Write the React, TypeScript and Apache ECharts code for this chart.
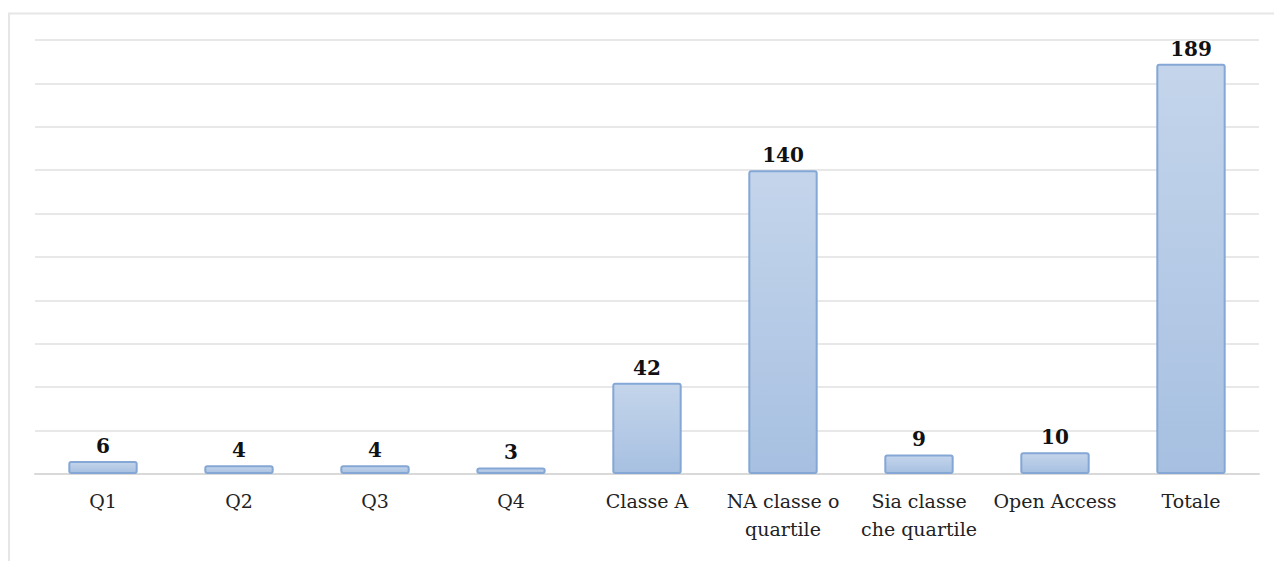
import React, { useEffect, useRef } from "react";
import * as echarts from "echarts";

const categories = [
  "Q1",
  "Q2",
  "Q3",
  "Q4",
  "Classe A",
  "NA classe o\nquartile",
  "Sia classe\nche quartile",
  "Open Access",
  "Totale",
];
const values = [6, 4, 4, 3, 42, 140, 9, 10, 189];
const yMin = 0;
const yMax = 200;
const yInterval = 20;

const FONT = "'DejaVu Serif', 'Liberation Serif', serif";

export default function App() {
  const ref = useRef<HTMLDivElement>(null);
  useEffect(() => {
    if (!ref.current) return;
    const chart = echarts.init(ref.current, null, { renderer: "svg" });
    chart.setOption({
      animation: false,
      backgroundColor: "#ffffff",
      graphic: [
        {
          type: "rect",
          shape: { x: 9, y: 13.5, width: 1300, height: 600 },
          style: { fill: "none", stroke: "#e6e6e6", lineWidth: 2 },
          silent: true,
        },
      ],
      grid: { left: 35, right: 15, top: 40, bottom: 87 },
      xAxis: {
        type: "category",
        data: categories,
        axisLine: { show: true, lineStyle: { color: "#d9d9d9", width: 2 } },
        axisTick: { show: false },
        axisLabel: {
          color: "#222222",
          fontFamily: FONT,
          fontSize: 19,
          lineHeight: 28,
          margin: 13,
          interval: 0,
        },
      },
      yAxis: {
        type: "value",
        min: yMin,
        max: yMax,
        interval: yInterval,
        axisLabel: { show: false },
        axisLine: { show: false },
        axisTick: { show: false },
        splitLine: { lineStyle: { color: "#e8e8e8", width: 2 } },
      },
      series: [
        {
          type: "bar",
          data: values,
          barWidth: "51%",
          itemStyle: {
            color: new echarts.graphic.LinearGradient(0, 0, 0, 1, [
              { offset: 0, color: "#c4d5eb" },
              { offset: 1, color: "#a7c0e1" },
            ]),
            borderColor: "#84a7d5",
            borderWidth: 2,
            borderRadius: 2,
          },
          label: {
            show: true,
            position: "top",
            distance: 5,
            color: "#111111",
            fontFamily: FONT,
            fontWeight: "bold",
            fontSize: 20,
          },
        },
      ],
    });
    return () => chart.dispose();
  }, []);
  return (
    <div
      ref={ref}
      style={{ position: "absolute", left: 0, top: 0, width: 1274, height: 561 }}
    />
  );
}
